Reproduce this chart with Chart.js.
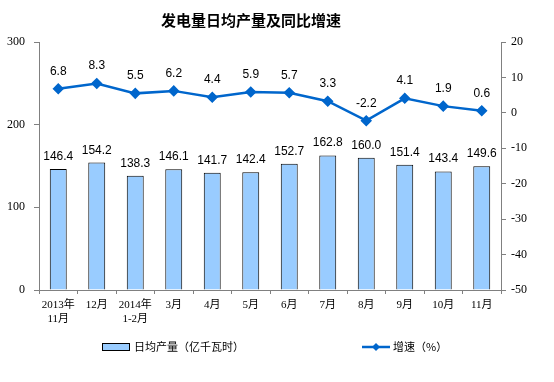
<!DOCTYPE html>
<html>
<head>
<meta charset="utf-8">
<script src="https://cdn.jsdelivr.net/npm/chart.js@4/dist/chart.umd.min.js"></script>
<style>
html,body{margin:0;padding:0;background:#fff;}
#wrap{width:554px;height:382px;position:relative;}
</style>
</head>
<body>
<div id="wrap"><canvas id="c" width="554" height="382"></canvas></div>
<script>
const categories = [["2013年","11月"],"12月",["2014年","1-2月"],"3月","4月","5月","6月","7月","8月","9月","10月","11月"];
const dailyOutput = [146.4,154.2,138.3,146.1,141.7,142.4,152.7,162.8,160.0,151.4,143.4,149.6];
const growthRate = [6.8,8.3,5.5,6.2,4.4,5.9,5.7,3.3,-2.2,4.1,1.9,0.6];
const titleText = "发电量日均产量及同比增速";
const barLabel = "日均产量（亿千瓦时）";
const lineLabel = "增速（%）";

const CJK = '"Noto Sans CJK SC"';
const tickFont = {family: '"Liberation Serif", ' + CJK, size: 11};
const numFont = '12px "Liberation Sans", Arial, sans-serif';

const overlay = {
  id: 'overlay',
  afterDatasetsDraw(chart) {
    const ctx = chart.ctx;
    ctx.save();
    ctx.fillStyle = '#000';
    ctx.font = numFont;
    ctx.textAlign = 'center';
    ctx.textBaseline = 'alphabetic';
    chart.getDatasetMeta(0).data.forEach((el, i) => {
      ctx.fillText(chart.data.datasets[0].data[i].toFixed(1), el.x, el.y - 9);
    });
    chart.getDatasetMeta(1).data.forEach((el, i) => {
      ctx.fillText(chart.data.datasets[1].data[i].toFixed(1), el.x, el.y - 14);
    });
    ctx.restore();
  },
  afterDraw(chart) {
    const ctx = chart.ctx;
    ctx.save();
    // title
    ctx.fillStyle = '#000';
    ctx.font = 'bold 15px ' + CJK;
    ctx.textAlign = 'center';
    ctx.textBaseline = 'middle';
    ctx.fillText(titleText, 251, 20);
    // legend
    const ly = 347;
    ctx.fillStyle = '#99CCFF';
    ctx.fillRect(102.5, ly - 3.5, 27, 7);
    ctx.strokeStyle = '#000';
    ctx.lineWidth = 1;
    ctx.strokeRect(102.5, ly - 3.5, 27, 7);
    ctx.fillStyle = '#000';
    ctx.font = '11px ' + CJK;
    ctx.textAlign = 'left';
    ctx.fillText(barLabel, 134, ly);
    ctx.strokeStyle = '#0066CC';
    ctx.lineWidth = 2.5;
    ctx.beginPath();
    ctx.moveTo(362, ly); ctx.lineTo(390, ly); ctx.stroke();
    ctx.fillStyle = '#0066CC';
    ctx.beginPath();
    ctx.moveTo(376, ly - 4); ctx.lineTo(380, ly); ctx.lineTo(376, ly + 4); ctx.lineTo(372, ly); ctx.closePath(); ctx.fill();
    ctx.fillStyle = '#000';
    ctx.fillText(lineLabel, 393, ly);
    ctx.restore();
  }
};

new Chart(document.getElementById('c'), {
  type: 'bar',
  data: {
    labels: categories,
    datasets: [
      {
        type: 'bar',
        label: barLabel,
        data: dailyOutput,
        yAxisID: 'y',
        backgroundColor: '#99CCFF',
        borderColor: '#000',
        borderWidth: 1,
        barPercentage: 0.44,
        categoryPercentage: 1.0,
        order: 2
      },
      {
        type: 'line',
        label: lineLabel,
        data: growthRate,
        yAxisID: 'y1',
        borderColor: '#0066CC',
        backgroundColor: '#0066CC',
        borderWidth: 2.5,
        pointStyle: 'rectRot',
        pointRadius: 4,
        pointBackgroundColor: '#0066CC',
        pointBorderColor: '#0066CC',
        tension: 0,
        order: 1
      }
    ]
  },
  options: {
    responsive: false,
    animation: false,
    events: [],
    layout: {padding: {top: 42, bottom: 0, left: 0, right: 0}},
    plugins: {
      legend: {display: false},
      title: {display: false},
      tooltip: {enabled: false}
    },
    scales: {
      x: {
        offset: true,
        border: {color: '#808080', width: 1},
        grid: {offset: true, drawOnChartArea: false, drawTicks: true, tickLength: 4, color: '#808080'},
        ticks: {color: '#000', font: tickFont, padding: 5, maxRotation: 0, autoSkip: false},
        afterFit(s) { s.height = 92; }
      },
      y: {
        position: 'left',
        min: 0, max: 300,
        border: {color: '#808080', width: 1},
        grid: {drawOnChartArea: false, drawTicks: true, tickLength: 5, color: '#808080'},
        ticks: {stepSize: 100, color: '#000', font: {family: '"Liberation Serif", serif', size: 12}, padding: 9},
        afterFit(s) { s.width = 39; }
      },
      y1: {
        position: 'right',
        min: -50, max: 20,
        border: {color: '#808080', width: 1},
        grid: {drawOnChartArea: false, drawTicks: true, tickLength: 5, color: '#808080'},
        ticks: {stepSize: 10, color: '#000', font: {family: '"Liberation Serif", serif', size: 12}, padding: 5},
        afterFit(s) { s.width = 53; }
      }
    }
  },
  plugins: [overlay]
});
</script>
</body>
</html>
